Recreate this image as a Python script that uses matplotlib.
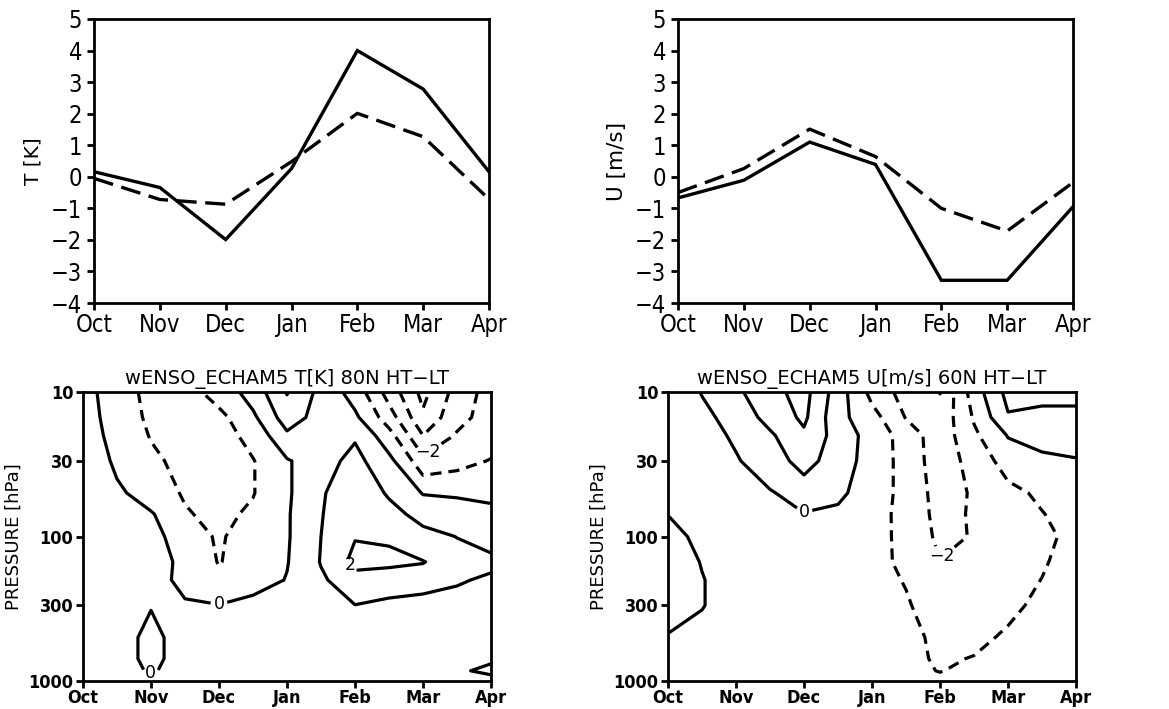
import matplotlib
matplotlib.use("Agg")
import matplotlib.pyplot as plt
import numpy as np
from matplotlib import font_manager as fm

# ---------------- data ----------------
months = ["Oct", "Nov", "Dec", "Jan", "Feb", "Mar", "Apr"]

t_solid = [0.16, -0.34, -1.99, 0.26, 4.0, 2.78, 0.16]
t_dashed = [-0.05, -0.72, -0.87, 0.48, 2.01, 1.27, -0.71]
u_solid = [-0.67, -0.11, 1.10, 0.39, -3.28, -3.28, -0.95]
u_dashed = [-0.50, 0.26, 1.51, 0.64, -1.00, -1.72, -0.18]

# half-month grid (month index) and pressure levels (hPa)
grid_months = [0, 0.5, 1, 1.5, 2, 2.5, 3, 3.5, 4, 4.5, 5, 5.5, 6]
pressure = [10, 15, 20, 30, 50, 70, 100, 150, 200, 300, 500, 700, 850, 1000]

t_field = [
    [0.35, -0.5, -1.3, -1.4, -0.6, 0.4, 2.05, 0.7, -0.4, -2.4, -4.3, -2.6, -1.6],
    [0.4, -0.4, -1.2, -1.5, -1.3, -0.2, 1.5, 0.6, 0.2, -1.5, -3.8, -2.3, -1.6],
    [0.6, -0.4, -1.05, -1.4, -1.4, -0.7, 0.8, 0.6, 0.9, -0.6, -3.0, -1.9, -1.4],
    [0.8, -0.2, -0.8, -1.3, -1.5, -1.05, -0.1, 0.6, 1.3, 0.3, -1.6, -1.3, -0.95],
    [0.7, 0.2, -0.5, -1.1, -1.6, -1.05, -0.15, 0.9, 1.6, 0.9, -0.05, -0.1, -0.15],
    [0.7, 0.5, 0.1, -0.9, -1.3, -0.8, -0.1, 0.95, 1.7, 1.3, 0.7, 0.4, 0.18],
    [0.7, 0.6, 0.4, -0.6, -1.1, -0.6, -0.1, 1.0, 1.95, 1.9, 1.3, 0.98, 0.7],
    [0.7, 0.6, 0.45, -0.25, -1.05, -0.5, -0.05, 1.05, 2.3, 2.2, 2.05, 1.4, 1.2],
    [0.7, 0.6, 0.45, -0.3, -0.8, -0.5, 0.05, 0.85, 1.6, 1.5, 1.4, 1.1, 0.85],
    [0.6, 0.5, 0.035, 0.13, 0.04, 0.41, 0.5, 0.6, 0.98, 0.75, 0.6, 0.6, 0.55],
    [0.6, 0.4, -0.25, 0.4, 0.5, 0.5, 0.5, 0.5, 0.6, 0.6, 0.6, 0.6, 0.6],
    [0.6, 0.4, -0.25, 0.4, 0.5, 0.5, 0.5, 0.5, 0.6, 0.6, 0.6, 0.7, 0.8],
    [0.6, 0.4, -0.1, 0.4, 0.5, 0.5, 0.5, 0.5, 0.6, 0.6, 0.7, 0.8, 1.3],
    [0.6, 0.5, 0.3, 0.5, 0.5, 0.5, 0.5, 0.5, 0.6, 0.6, 0.6, 0.6, 0.5],
]

u_field = [
    [-0.8, 0.05, 0.8, 1.7, 2.35, 0.5, -1.3, -2.4, -3.02, -0.5, 1.3, 1.2, 1.1],
    [-0.7, -0.3, 0.45, 1.3, 2.2, 0.3, -0.6, -2.05, -2.7, -0.9, 0.9, 0.8, 0.9],
    [-0.6, -0.4, 0.15, 0.85, 1.8, 0.6, -0.4, -1.4, -2.6, -1.2, 0.05, 0.3, 0.3],
    [-0.5, -0.45, -0.1, 0.6, 1.3, 0.6, -0.5, -1.3, -2.6, -1.6, -0.6, -0.2, -0.05],
    [-0.4, -0.45, -0.6, -0.1, 0.5, 0.2, -0.5, -1.3, -2.4, -1.9, -1.3, -0.8, -0.35],
    [-0.02, -0.4, -0.5, -0.4, -0.06, -0.2, -0.55, -1.35, -2.3, -1.9, -1.5, -1.05, -0.5],
    [0.4, -0.3, -0.5, -0.5, -0.4, -0.4, -0.6, -1.3, -2.2, -1.95, -1.6, -1.25, -0.7],
    [0.6, -0.05, -0.4, -0.5, -0.5, -0.5, -0.7, -1.2, -1.95, -1.7, -1.5, -1.1, -0.6],
    [0.7, 0.05, -0.5, -0.5, -0.5, -0.5, -0.7, -1.05, -1.7, -1.6, -1.4, -0.98, -0.5],
    [0.65, 0.05, -0.5, -0.5, -0.5, -0.5, -0.6, -0.9, -1.5, -1.5, -1.2, -0.8, -0.4],
    [-0.12, -0.4, -0.5, -0.5, -0.5, -0.5, -0.5, -0.75, -1.2, -1.25, -0.85, -0.6, -0.3],
    [-0.3, -0.4, -0.5, -0.5, -0.5, -0.5, -0.5, -0.7, -1.15, -0.95, -0.7, -0.5, -0.3],
    [-0.3, -0.4, -0.5, -0.5, -0.5, -0.5, -0.5, -0.8, -1.03, -0.8, -0.6, -0.45, -0.3],
    [-0.3, -0.4, -0.5, -0.5, -0.5, -0.5, -0.5, -0.6, -0.8, -0.6, -0.5, -0.4, -0.3],
]

t_levels = [-4, -3, -2, -1, 0, 1, 2]
u_levels = [-3, -2, -1, 0, 1, 2]
p_ticks = [10, 30, 100, 300, 1000]
yticks_top = [-4, -3, -2, -1, 0, 1, 2, 3, 4, 5]

# ---------------- fonts ----------------
def pick_font(bold=False):
    cands = []
    for f in fm.fontManager.ttflist:
        fn = f.fname.lower()
        if "dejavusanscondensed" in fn.replace("-", "").replace("_", ""):
            isb = "bold" in fn
            if isb == bold and "oblique" not in fn:
                cands.append(f.fname)
    if cands:
        return fm.FontProperties(fname=cands[0])
    for f in fm.fontManager.ttflist:
        if f.name == "Liberation Sans Narrow":
            fn = f.fname.lower()
            isb = "bold" in fn
            if isb == bold and "italic" not in fn:
                return fm.FontProperties(fname=f.fname)
    return fm.FontProperties(family="DejaVu Sans", weight="bold" if bold else "normal")

fp_reg = pick_font(False)
fp_bold = pick_font(True)

W, H = 1169, 709
fig = plt.figure(figsize=(W / 100, H / 100), dpi=100)

def rect(l, r, t, b):
    return [l / W, 1 - b / H, (r - l) / W, (b - t) / H]

AX_LW = 2.0

def style_axes(ax):
    for s in ax.spines.values():
        s.set_linewidth(AX_LW)
    ax.tick_params(direction="out", width=AX_LW, length=5)

# ---------------- top line plots ----------------
def line_panel(rct, solid, dashed, ylabel, ylsize):
    ax = fig.add_axes(rct)
    x = np.arange(len(months))
    ax.plot(x, solid, color="black", lw=2.4, solid_joinstyle="miter")
    ax.plot(x, dashed, color="black", lw=2.4, linestyle=(0, (6, 2.6)))
    ax.set_xlim(0, 6)
    ax.set_ylim(-4, 5)
    ax.set_xticks(x)
    ax.set_xticklabels(months)
    ax.set_yticks(yticks_top)
    ax.set_yticklabels([("\u2212%d" % -v) if v < 0 else "%d" % v for v in yticks_top])
    style_axes(ax)
    for lab in ax.get_xticklabels() + ax.get_yticklabels():
        lab.set_fontproperties(fp_reg)
        lab.set_fontsize(17)
    ax.tick_params(axis="x", pad=2)
    ax.set_ylabel(ylabel, fontsize=ylsize, labelpad=6)
    return ax

line_panel(rect(94, 489, 19, 303), t_solid, t_dashed, "T [K]", 14.5)
line_panel(rect(678, 1073, 19, 303), u_solid, u_dashed, "U [m/s]", 15.5)

# ---------------- bottom contour plots ----------------
def fmt(v):
    v = int(round(v))
    return ("\u2212%d" % -v) if v < 0 else "%d" % v

def contour_panel(rct, field, levels, title, label_pos):
    ax = fig.add_axes(rct)
    X, Y = np.meshgrid(grid_months, pressure)
    Z = np.array(field)
    styles = [(0, (3.5, 2.2)) if lv < 0 else "solid" for lv in levels]
    cs = ax.contour(X, Y, Z, levels=levels, colors="black", linewidths=2.3,
                    linestyles=styles)
    ax.set_yscale("log")
    ax.set_ylim(1000, 10)
    ax.set_xlim(0, 6)
    ax.set_yticks(p_ticks)
    ax.set_yticklabels([str(p) for p in p_ticks])
    ax.yaxis.set_minor_locator(matplotlib.ticker.NullLocator())
    ax.set_xticks(range(len(months)))
    ax.set_xticklabels(months)
    style_axes(ax)
    for lab in ax.get_xticklabels() + ax.get_yticklabels():
        lab.set_fontproperties(fp_bold)
        lab.set_fontsize(13)
    ax.tick_params(axis="x", pad=1)
    ax.tick_params(axis="y", pad=2)
    ax.set_ylabel("PRESSURE [hPa]", fontsize=13, labelpad=4)
    ax.set_title(title, fontsize=14, pad=6)
    txts = ax.clabel(cs, levels=cs.levels, manual=label_pos, fmt=fmt, inline=True,
                     inline_spacing=3, fontsize=12.5)
    for t in txts:
        t.set_rotation(0)
    return ax

contour_panel(rect(83, 491, 392, 681), t_field, t_levels,
              "wENSO_ECHAM5 T[K] 80N HT\u2212LT",
              [(2.0, 295), (1.0, 880), (3.95, 155), (5.1, 27)])
contour_panel(rect(668, 1076, 392, 681), u_field, u_levels,
              "wENSO_ECHAM5 U[m/s] 60N HT\u2212LT",
              [(2.0, 68), (4.05, 140)])

fig.savefig("out.png", dpi=100)
